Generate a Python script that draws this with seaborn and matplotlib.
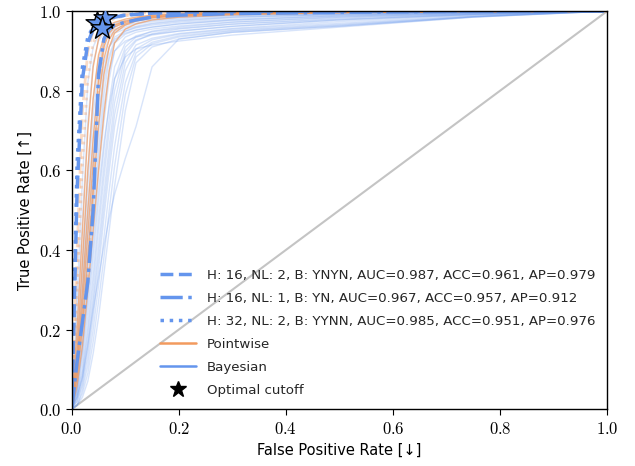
import matplotlib
matplotlib.use("Agg")
import matplotlib.pyplot as plt
from matplotlib.lines import Line2D
from matplotlib.ticker import FuncFormatter
import seaborn as sns
import numpy as np
import pandas as pd

# shared false positive rate grid
fpr = [0.0, 0.01, 0.02, 0.03, 0.04, 0.05, 0.06, 0.07, 0.08, 0.10, 0.12, 0.15, 0.20, 0.30, 0.50, 0.75, 1.0]

# faint Bayesian runs (true positive rate on the fpr grid)
bayes_runs = [
    [0, .28, .58, .82, .91, .94, .955, .963, .97, .976, .98, .985, .99, .994, .997, .999, 1],
    [0, .22, .48, .72, .87, .925, .945, .955, .962, .97, .975, .98, .985, .99, .995, .998, 1],
    [0, .16, .38, .60, .78, .88, .925, .94, .95, .96, .967, .974, .98, .987, .993, .997, 1],
    [0, .12, .30, .50, .68, .82, .90, .93, .945, .955, .962, .97, .977, .985, .992, .997, 1],
    [0, .09, .24, .42, .59, .74, .85, .91, .935, .95, .958, .965, .972, .98, .99, .996, 1],
    [0, .07, .19, .35, .51, .66, .79, .88, .92, .942, .952, .96, .968, .977, .988, .995, 1],
    [0, .05, .15, .29, .44, .59, .72, .83, .90, .935, .947, .955, .963, .973, .985, .994, 1],
    [0, .04, .12, .24, .38, .52, .65, .77, .86, .92, .938, .948, .957, .968, .982, .993, 1],
    [0, .03, .09, .19, .31, .45, .58, .70, .80, .90, .928, .94, .95, .962, .978, .991, 1],
    [0, .02, .07, .15, .26, .38, .51, .63, .74, .87, .915, .932, .944, .957, .974, .99, 1],
    [0, .02, .06, .13, .23, .35, .48, .60, .71, .85, .905, .928, .942, .955, .97, .988, 1],
    [0, .01, .05, .11, .20, .31, .43, .55, .66, .82, .895, .922, .938, .952, .967, .987, 1],
    [0, .01, .04, .09, .17, .27, .38, .50, .61, .79, .885, .918, .935, .95, .965, .986, 1],
    [0, .01, .03, .07, .14, .23, .34, .45, .56, .75, .87, .91, .93, .947, .962, .985, 1],
    [0, .03, .08, .16, .25, .33, .41, .48, .54, .63, .71, .86, .93, .947, .963, .986, 1],
    [0, .05, .14, .27, .41, .55, .67, .76, .83, .885, .905, .915, .925, .94, .96, .985, 1],
    [0, .06, .17, .32, .48, .63, .76, .85, .90, .925, .935, .942, .95, .962, .978, .992, 1],
    [0, .10, .27, .46, .64, .78, .87, .91, .93, .945, .953, .96, .968, .978, .988, .996, 1],
    [0, .14, .34, .56, .74, .86, .92, .945, .955, .965, .97, .977, .983, .99, .995, .998, 1],
    [0, .04, .10, .21, .34, .48, .61, .73, .83, .91, .935, .95, .96, .972, .985, .994, 1],
    [0, .08, .21, .38, .55, .70, .82, .89, .925, .95, .96, .968, .975, .984, .992, .997, 1],
    [0, .03, .08, .17, .28, .41, .54, .66, .77, .89, .925, .943, .955, .967, .98, .992, 1],
]

# pointwise runs
point_runs = [
    [0, .20, .45, .70, .86, .93, .955, .965, .972, .98, .985, .99, .993, .996, .998, 1, 1],
    [0, .12, .30, .50, .68, .83, .91, .945, .96, .972, .98, .986, .99, .995, .998, 1, 1],
    [0, .08, .21, .38, .55, .71, .84, .91, .945, .965, .975, .983, .988, .993, .997, 1, 1],
    [0, .06, .16, .30, .45, .60, .74, .85, .92, .955, .968, .978, .985, .991, .996, 1, 1],
    [0, .10, .26, .44, .62, .78, .88, .93, .952, .968, .977, .984, .989, .994, .997, 1, 1],
    [0, .15, .37, .60, .78, .89, .935, .955, .965, .975, .982, .988, .992, .995, .998, 1, 1],
]

# top three configurations: bayesian and pointwise counterparts
top_labels = [
    "H: 16, NL: 2, B: YNYN, AUC=0.987, ACC=0.961, AP=0.979",
    "H: 16, NL: 1, B: YN, AUC=0.967, ACC=0.957, AP=0.912",
    "H: 32, NL: 2, B: YYNN, AUC=0.985, ACC=0.951, AP=0.976",
]
top_styles = ["--", "-.", ":"]
top_bayes = [
    [0, .55, .83, .92, .955, .968, .975, .98, .985, .99, .992, .995, .997, .999, 1, 1, 1],
    [0, .12, .22, .32, .50, .84, .93, .955, .965, .972, .978, .985, .99, .994, .997, 1, 1],
    [0, .62, .86, .935, .96, .97, .976, .981, .986, .99, .993, .995, .997, .999, 1, 1, 1],
]
top_point = [
    [0, .40, .75, .90, .95, .965, .975, .982, .987, .992, .995, .997, .998, .999, 1, 1, 1],
    [0, .10, .22, .35, .55, .80, .92, .95, .965, .975, .982, .988, .992, .995, .998, 1, 1],
    [0, .30, .62, .83, .92, .95, .965, .975, .982, .988, .992, .995, .997, .999, 1, 1, 1],
]

# optimal cutoff points of the top configurations
star_fpr = [0.047, 0.062, 0.056]
star_tpr = [0.970, 0.982, 0.957]

blue = "#6495ed"
orange = "#f29a5e"


def to_long(runs):
    rows = []
    for i, tpr in enumerate(runs):
        for x, y in zip(fpr, tpr):
            rows.append({"run": i, "fpr": x, "tpr": y})
    return pd.DataFrame(rows)


sns.set_style("ticks")
plt.rcParams["font.family"] = ["DejaVu Sans"]
plt.rcParams["mathtext.fontset"] = "cm"

fig, ax = plt.subplots(figsize=(6.35, 4.66), dpi=100)
fig.subplots_adjust(left=0.113, right=0.956, bottom=0.122, top=0.976)

ax.plot([0, 1], [0, 1], color="#c4c4c4", lw=1.5, zorder=1)

sns.lineplot(data=to_long(bayes_runs), x="fpr", y="tpr", units="run", estimator=None,
             color=blue, alpha=0.25, lw=1.0, ax=ax, legend=False)
sns.lineplot(data=to_long(point_runs), x="fpr", y="tpr", units="run", estimator=None,
             color=orange, alpha=0.7, lw=1.0, ax=ax, legend=False)

for tpr, ls in zip(top_point, top_styles):
    sns.lineplot(x=fpr, y=tpr, color=orange, alpha=0.35, lw=2.0, linestyle=ls, ax=ax)
for tpr, ls in zip(top_bayes, top_styles):
    sns.lineplot(x=fpr, y=tpr, color=blue, lw=2.5, linestyle=ls, ax=ax)

ax.scatter(star_fpr, star_tpr, marker="*", s=300, color=blue, edgecolor="black",
           linewidth=1.0, zorder=5)

ax.set_xlim(0, 1)
ax.set_ylim(0, 1)
ax.set_xticks(np.arange(0, 1.01, 0.2))
ax.set_yticks(np.arange(0, 1.01, 0.2))
fmt = FuncFormatter(lambda v, p: f"${v:.1f}$")
ax.xaxis.set_major_formatter(fmt)
ax.yaxis.set_major_formatter(fmt)
ax.tick_params(labelsize=12, length=4, color="black", labelcolor="black")
for s in ax.spines.values():
    s.set_color("black")
    s.set_linewidth(1.0)
ax.set_xlabel("False Positive Rate [\u2193]", fontsize=10.5, color="black")
ax.set_ylabel("True Positive Rate [\u2191]", fontsize=10.5, color="black")

handles = [Line2D([], [], color=blue, lw=2.5, linestyle=ls) for ls in top_styles]
handles += [
    Line2D([], [], color=orange, lw=1.8),
    Line2D([], [], color=blue, lw=1.8),
    Line2D([], [], color="black", marker="*", linestyle="none", markersize=12),
]
labels = top_labels + ["Pointwise", "Bayesian", "Optimal cutoff"]
ax.legend(handles, labels, loc="lower right", frameon=False, fontsize=9.6,
          handlelength=2.7, labelspacing=0.75)

plt.savefig("out.png", dpi=100)
plt.close()
